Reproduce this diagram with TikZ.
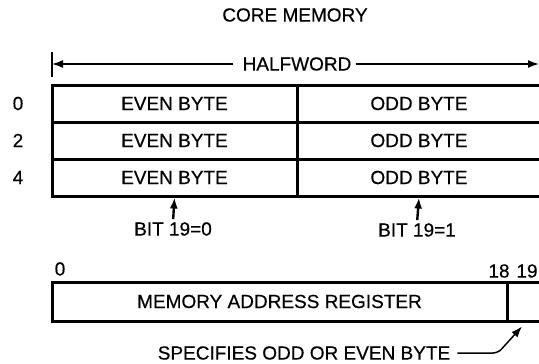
\documentclass[tikz,border=0pt]{standalone}
\usepackage{fontspec}
\setmainfont{Liberation Sans}[FakeBold=0.4]
\usetikzlibrary{arrows.meta,calc}

\begin{document}
\begin{tikzpicture}[x=1pt,y=-1pt,
  txt/.style={inner sep=0pt,font=\fontsize{19}{21}\selectfont},
  cell/.style={txt,draw,line width=3pt},
  thin/.style={line width=1.5pt},
  tip/.style={-{Latex[length=11pt,width=8pt]}}]
\clip (0,0) rectangle (539,364);
\node[txt] (title) at (295,15) {CORE MEMORY};
% halfword span
\node[txt] (half) at (297,64) {HALFWORD};
\coordinate (hwl) at (52,64);
\coordinate (hwr) at (539,64);
\draw[line width=2.4pt] ($(hwl)+(0,-12)$) -- ($(hwl)+(0,13)$);
\draw[thin,tip] ([xshift=-9pt]half.west) -- (hwl);
\draw[thin,tip] ([xshift=4pt]half.east) -- (hwr);
% memory rows
\foreach \adr [count=\i from 0] in {0,2,4} {
  \node[txt] (adr\i) at (18,{103.5+37*\i}) {\adr};
  \node[cell,minimum width=245pt,minimum height=37pt] (even\i) at (174.5,{103.5+37*\i}) {EVEN BYTE};
  \node[cell,minimum width=244pt,minimum height=37pt] (odd\i) at (419,{103.5+37*\i}) {ODD BYTE};
}
\node[txt] (bit0) at (173,229) {BIT 19=0};
\node[txt] (bit1) at (417,230) {BIT 19=1};
\draw[line width=2.4pt,tip,shorten <=3pt] (bit0.north) -- (even2.south);
\draw[line width=2.4pt,tip,shorten <=3pt] (bit1.north) -- (odd2.south);
% address register
\node[cell,minimum width=455pt,minimum height=39pt] (mar) at (279.5,301.5) {MEMORY ADDRESS REGISTER};
\node[cell,minimum width=34pt,minimum height=39pt] (bit19) at (524,301.5) {};
\node[txt] (b0) at (60,269) {0};
\node[txt] (b18) at (499,271) {18};
\node[txt] (b19) at (527,271) {19};
\node[txt] (spec) at (304,353) {SPECIFIES ODD OR EVEN BYTE};
\coordinate (bend) at (498,353);
\draw[thin,tip,rounded corners=5pt] ([xshift=7pt]spec.east) -- (bend) -- ([xshift=-2pt,yshift=-4pt]bit19.south);
\end{tikzpicture}
\end{document}
